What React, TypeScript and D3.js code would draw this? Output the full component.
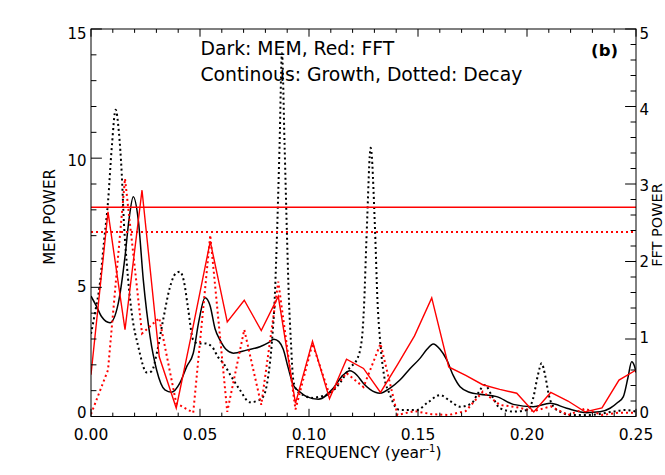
import React from "react";
import * as d3 from "d3";

// ---------- DATA ----------
// FFT frequency grid (k/128 year^-1)
const fftFreq = [
  0, 0.0078, 0.0156, 0.0234, 0.0313, 0.0391, 0.0469, 0.0547, 0.0625, 0.0703, 0.0781,
  0.0859, 0.0938, 0.1016, 0.1094, 0.1172, 0.125, 0.1328, 0.1406, 0.1484, 0.1563,
  0.1641, 0.1719, 0.1797, 0.1875, 0.1953, 0.2031, 0.2109, 0.2188, 0.2266, 0.2344,
  0.2422, 0.25,
];
// FFT power (right axis), growth (solid red)
const fftGrowth = [
  0.54, 2.64, 1.12, 2.92, 0.77, 0.11, 1.17, 2.26, 1.22, 1.5, 1.11,
  1.55, 0.17, 0.97, 0.23, 0.74, 0.62, 0.31, 0.67, 1.04, 1.53,
  0.64, 0.53, 0.41, 0.35, 0.3, 0.06, 0.31, 0.2, 0.06, 0.11,
  0.47, 0.6,
];
// FFT power (right axis), decay (dotted red)
const fftDecay = [
  0.03, 0.6, 3.07, 1.07, 1.27, 0.17, 0.05, 2.34, 0.06, 1.12, 0.15,
  1.74, 0.09, 0.94, 0.28, 0.56, 0.38, 0.94, 0.02, 0.07, 0.03,
  0.02, 0.07, 0.32, 0.15, 0.12, 0.07, 0.13, 0.02, 0.1, 0.02,
  0.05, 0.05,
];
// FFT significance levels (right axis)
const fftSigGrowth = 2.7;
const fftSigDecay = 2.38;

// MEM spectrum, growth (solid black)
const memGrowthFreq = [
  0, 0.0023, 0.0049, 0.0087, 0.0125, 0.0156, 0.0174, 0.0194, 0.0217, 0.024, 0.0271,
  0.0301, 0.0339, 0.037, 0.0408, 0.044, 0.0469, 0.0495, 0.0523, 0.0546, 0.0569,
  0.0592, 0.0619, 0.0653, 0.0714, 0.0775, 0.0812, 0.0839, 0.0862, 0.0882, 0.0904,
  0.0928, 0.0959, 0.0989, 0.1043, 0.1111, 0.1156, 0.1188, 0.122, 0.1249, 0.128,
  0.1326, 0.1372, 0.1417, 0.1463, 0.1509, 0.1541, 0.157, 0.1601, 0.1632, 0.1661,
  0.1693, 0.1739, 0.1784, 0.1861, 0.1937, 0.2029, 0.2106, 0.2182, 0.2274, 0.2335,
  0.2381, 0.2417, 0.2442, 0.2463, 0.248, 0.2493, 0.25,
];
const memGrowth = [
  4.66, 4.3, 3.86, 3.63, 4.38, 6.19, 7.6, 8.51, 7.6, 5.28, 3.09,
  1.8, 1.03, 0.94, 1.3, 1.95, 2.45, 3.7, 4.6, 4.3, 3.4,
  2.96, 2.6, 2.45, 2.57, 2.7, 2.85, 2.99, 2.9, 2.6, 1.9,
  1.22, 0.95, 0.77, 0.67, 1.09, 1.6, 1.77, 1.6, 1.29, 1.05,
  0.9, 1.1, 1.41, 1.85, 2.25, 2.6, 2.81, 2.6, 2.19, 1.6,
  1.15, 0.93, 0.86, 0.77, 0.47, 0.38, 0.51, 0.32, 0.15, 0.18,
  0.32, 0.55, 0.77, 1.5, 2.12, 1.95, 1.7,
];

// MEM spectrum, decay (dotted black)
const memDecayFreq = [
  0, 0.0018, 0.0041, 0.006, 0.0078, 0.0096, 0.0113, 0.0128, 0.0141, 0.0151, 0.0164,
  0.0187, 0.0217, 0.0256, 0.0278, 0.0303, 0.033, 0.0362, 0.039, 0.0408, 0.0427,
  0.0445, 0.0469, 0.0491, 0.0523, 0.0555, 0.0583, 0.0607, 0.0647, 0.0683, 0.0729,
  0.0761, 0.079, 0.0812, 0.083, 0.0844, 0.0853, 0.0865, 0.0876, 0.0888, 0.0899,
  0.0908, 0.0917, 0.0928, 0.0945, 0.0974, 0.1014, 0.105, 0.1096, 0.1142, 0.1188,
  0.1219, 0.1242, 0.1252, 0.1265, 0.1283, 0.1303, 0.1314, 0.1326, 0.1344, 0.1372,
  0.1394, 0.1417, 0.1494, 0.1546, 0.1601, 0.1647, 0.1693, 0.1746, 0.1775, 0.1807,
  0.1839, 0.1876, 0.1937, 0.1999, 0.2028, 0.205, 0.2067, 0.2083, 0.2101, 0.2121,
  0.2161, 0.2197, 0.2289, 0.2396, 0.245, 0.25,
];
const memDecay = [
  3.2, 4.0, 5.16, 6.8, 8.3, 10.5, 11.87, 11.0, 9.4, 7.5, 5.93,
  4.0, 2.7, 1.7, 1.75, 2.5, 3.7, 5.0, 5.55, 5.6, 5.2,
  4.2, 2.96, 2.83, 2.83, 2.7, 2.3, 2.06, 1.5, 1.03, 0.55,
  0.6, 0.77, 1.5, 2.9, 4.8, 7.0, 10.5, 14.06, 10.5, 7.0,
  4.5, 2.9, 1.41, 1.0, 0.83, 0.72, 0.77, 0.9, 1.3, 1.9,
  2.19, 2.96, 4.2, 7.2, 10.4, 7.2, 4.5, 2.96, 1.6, 0.83,
  0.4, 0.25, 0.25, 0.55, 0.83, 0.6, 0.38, 0.51, 0.9, 1.22,
  0.8, 0.32, 0.19, 0.25, 0.7, 1.6, 2.06, 1.6, 0.8, 0.38,
  0.15, 0.06, 0.06, 0.19, 0.25, 0.19,
];

// Axis ticks
const xMajor = [0, 0.05, 0.1, 0.15, 0.2, 0.25];
const xMinorStep = 0.01;
const leftMajor = [0, 5, 10, 15];
const rightMajor = [0, 1, 2, 3, 4, 5];

const legendLine1 = "Dark: MEM, Red: FFT";
const legendLine2 = "Continous: Growth, Dotted: Decay";
const panelLabel = "(b)";

// ---------- LAYOUT ----------
const W = 665;
const H = 475;
const L = 91;
const R = 636;
const T = 29;
const B = 416.5;
const FONT = "'DejaVu Sans', sans-serif";

export default function App() {
  const x = d3.scaleLinear().domain([0, 0.25]).range([L, R]);
  const yL = d3.scaleLinear().domain([0, 15]).range([B, T]);
  const yR = d3.scaleLinear().domain([0, 5]).range([B, T]);

  const memLine = d3
    .line<[number, number]>()
    .x((d) => x(d[0]))
    .y((d) => yL(d[1]))
    .curve(d3.curveMonotoneX);
  const fftLine = d3
    .line<[number, number]>()
    .x((d) => x(d[0]))
    .y((d) => yR(d[1]));

  const zip = (a: number[], b: number[]) => a.map((v, i) => [v, b[i]] as [number, number]);

  const xMinor = d3.range(0, 0.25 + 1e-9, xMinorStep).filter(
    (v) => !xMajor.some((m) => Math.abs(m - v) < 1e-9)
  );
  const leftMinor = d3.range(0, 15.001, 1).filter((v) => v % 5 !== 0);
  const rightMinor = d3.range(0, 5.001, 0.2).filter(
    (v) => Math.abs(v - Math.round(v)) > 1e-6
  );

  const xTickLen = 7.7;
  const yTickLen = 10.9;
  const dotted = "2 3";
  // vertical label shift: slightly up at the bottom end, down at the top end
  const labShift = (frac: number) => -3.5 + 8.5 * frac;

  return (
    <svg
      width={W}
      height={H}
      style={{ position: "absolute", left: 0, top: 0, background: "#fff" }}
      fontFamily={FONT}
    >
      <defs>
        <clipPath id="plotclip">
          <rect x={L} y={T} width={R - L} height={B - T} />
        </clipPath>
      </defs>
      <rect x={0} y={0} width={W} height={H} fill="#fff" />

      <g clipPath="url(#plotclip)" fill="none">
        <path d={memLine(zip(memGrowthFreq, memGrowth)) || ""} stroke="#000" strokeWidth={1.5} />
        <path
          d={memLine(zip(memDecayFreq, memDecay)) || ""}
          stroke="#000"
          strokeWidth={2}
          strokeDasharray={dotted}
        />
        <path d={fftLine(zip(fftFreq, fftGrowth)) || ""} stroke="#ff0000" strokeWidth={1.4} />
        <path
          d={fftLine(zip(fftFreq, fftDecay)) || ""}
          stroke="#ff0000"
          strokeWidth={2}
          strokeDasharray={dotted}
        />
        <line x1={L} x2={R} y1={yR(fftSigGrowth)} y2={yR(fftSigGrowth)} stroke="#ff0000" strokeWidth={1.4} />
        <line
          x1={L}
          x2={R}
          y1={yR(fftSigDecay)}
          y2={yR(fftSigDecay)}
          stroke="#ff0000"
          strokeWidth={2}
          strokeDasharray={dotted}
        />
      </g>

      {/* frame */}
      <rect x={L} y={T} width={R - L} height={B - T} fill="none" stroke="#000" strokeWidth={1} />

      {/* x ticks bottom & top */}
      {xMajor.map((v) => (
        <g key={"xM" + v}>
          <line x1={x(v)} x2={x(v)} y1={B} y2={B - xTickLen} stroke="#000" />
          <line x1={x(v)} x2={x(v)} y1={T} y2={T + xTickLen} stroke="#000" />
          <text x={x(v)} y={439.5} fontSize={15.5} textAnchor="middle" fill="#000">
            {d3.format(".2f")(v)}
          </text>
        </g>
      ))}
      {xMinor.map((v) => (
        <g key={"xm" + v}>
          <line x1={x(v)} x2={x(v)} y1={B} y2={B - xTickLen / 2} stroke="#000" />
          <line x1={x(v)} x2={x(v)} y1={T} y2={T + xTickLen / 2} stroke="#000" />
        </g>
      ))}

      {/* left axis */}
      {leftMajor.map((v) => (
        <g key={"lM" + v}>
          <line x1={L} x2={L + yTickLen} y1={yL(v)} y2={yL(v)} stroke="#000" />
          <text
            x={86.5}
            y={yL(v) + labShift(v / 15)}
            dy="0.36em"
            fontSize={15}
            textAnchor="end"
            fill="#000"
          >
            {v}
          </text>
        </g>
      ))}
      {leftMinor.map((v) => (
        <line key={"lm" + v} x1={L} x2={L + yTickLen / 2} y1={yL(v)} y2={yL(v)} stroke="#000" />
      ))}

      {/* right axis */}
      {rightMajor.map((v) => (
        <g key={"rM" + v}>
          <line x1={R} x2={R - yTickLen} y1={yR(v)} y2={yR(v)} stroke="#000" />
          <text
            x={639.5}
            y={yR(v) + labShift(v / 5)}
            dy="0.36em"
            fontSize={15}
            textAnchor="start"
            fill="#000"
          >
            {v}
          </text>
        </g>
      ))}
      {rightMinor.map((v) => (
        <line key={"rm" + v} x1={R} x2={R - yTickLen / 2} y1={yR(v)} y2={yR(v)} stroke="#000" />
      ))}

      {/* axis titles */}
      <text transform={`translate(55,217) rotate(-90)`} fontSize={15} textAnchor="middle" fill="#000">
        MEM POWER
      </text>
      <text transform={`translate(662,225) rotate(-90)`} fontSize={14.5} textAnchor="middle" fill="#000">
        FFT POWER
      </text>
      <text x={(L + R) / 2} y={458} fontSize={15.5} textAnchor="middle" fill="#000">
        FREQUENCY (year
        <tspan dy={-6} fontSize={10}>
          -1
        </tspan>
        <tspan dy={6}>)</tspan>
      </text>

      {/* legend text */}
      <text x={200.5} y={55} fontSize={18.8} fill="#000">
        {legendLine1}
      </text>
      <text x={200.5} y={81} fontSize={18.8} fill="#000">
        {legendLine2}
      </text>
      <text x={618} y={56} fontSize={16.5} fontWeight="bold" textAnchor="end" fill="#000">
        {panelLabel}
      </text>
    </svg>
  );
}
